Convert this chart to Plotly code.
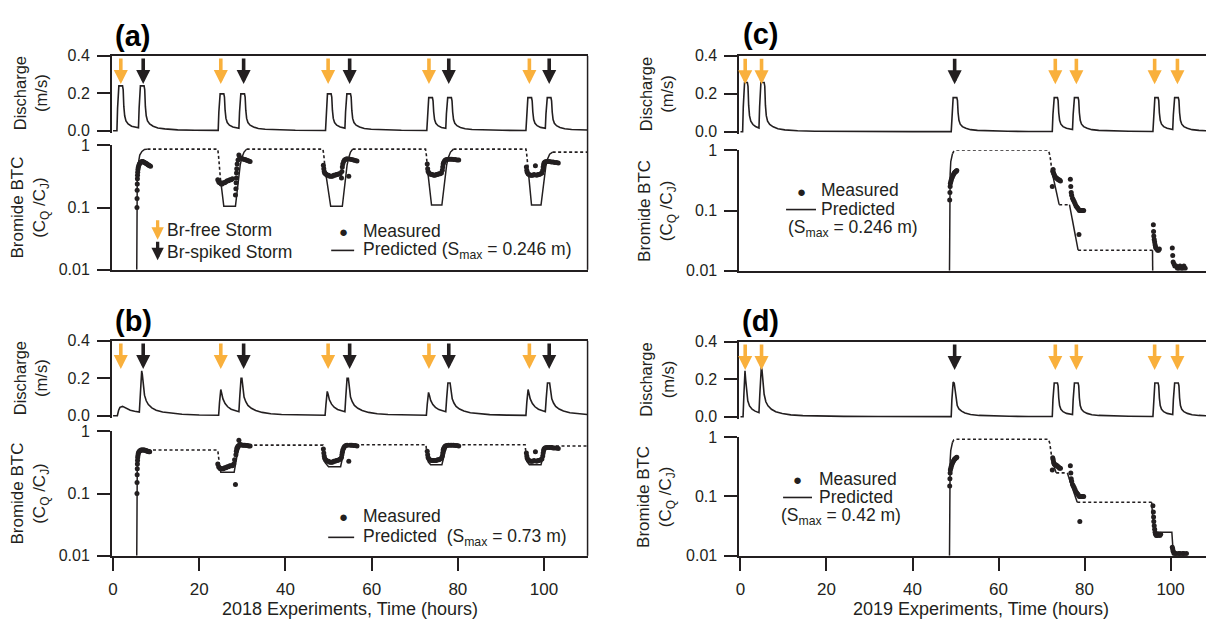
import plotly.graph_objects as go

W, H = 1214, 630
# the page body adds an 8px margin; the figure is drawn from (8, 8) to the window edge
OX, OY = 8, 8
FW, FH = W - OX, H - OY
INK = "#231F20"
ORANGE = "#F9B03C"
FONT = "Liberation Sans, Arial, Helvetica, sans-serif"

# ---------------- data ----------------
TIME_TICKS = [0, 20, 40, 60, 80, 100]
Q_TICKS = [0.0, 0.2, 0.4]
Q_TICKTEXT = ["0.0", "0.2", "0.4"]
C_TICKS = [0.01, 0.1, 1]
C_TICKTEXT = ["0.01", "0.1", "1"]

ARROW_TIP_Q = 0.25
FREE_2018 = [1.8, 25.0, 49.9, 73.3, 96.6]
SPIKED_2018 = [7.0, 30.3, 54.9, 77.9, 101.2]
FREE_2019 = [1.1, 4.9, 73.2, 78.1, 96.3, 101.6]
SPIKED_2019 = [49.8]

# discharge (m/s)
QA_T = [0, 0.9, 1.05, 1.2, 1.35, 2.2, 2.35, 2.5, 2.7, 3.0, 3.5, 4.3, 5.9,
        6.05, 6.2, 6.35, 7.2, 7.35, 7.5, 7.7, 8.0, 8.5, 9.3, 10.4, 12, 15, 19, 24.4,
        24.55, 24.7, 24.85, 25.7, 25.85, 26.0, 26.2, 26.5, 27.0, 27.8, 29.2,
        29.35, 29.5, 29.65, 30.5, 30.65, 30.8, 31.0, 31.3, 31.8, 32.6, 33.7, 35.3, 38.3, 42.3, 49.3,
        49.45, 49.6, 49.75, 50.6, 50.75, 50.9, 51.1, 51.4, 51.9, 52.7, 53.8,
        53.95, 54.1, 54.25, 55.1, 55.25, 55.4, 55.6, 55.9, 56.4, 57.2, 58.3, 59.9, 62.9, 66.9, 72.8,
        72.95, 73.1, 73.25, 74.1, 74.25, 74.4, 74.6, 74.9, 75.4, 76.2, 77.2,
        77.35, 77.5, 77.65, 78.5, 78.65, 78.8, 79.0, 79.3, 79.8, 80.6, 81.7, 83.3, 86.3, 90.3, 95.8,
        95.95, 96.1, 96.25, 97.1, 97.25, 97.4, 97.6, 97.9, 98.4, 99.2, 100.3,
        100.45, 100.6, 100.75, 101.6, 101.75, 101.9, 102.1, 102.4, 102.9, 103.7, 104.8, 106.4, 109.4, 110]
QA_V = [0, 0, 0.12, 0.22, 0.24, 0.24, 0.22, 0.13, 0.08, 0.053, 0.036, 0.024, 0.016,
        0.12, 0.22, 0.24, 0.24, 0.22, 0.13, 0.08, 0.053, 0.036, 0.024, 0.015, 0.01, 0.005, 0.003, 0.002,
        0.1, 0.18, 0.197, 0.197, 0.18, 0.11, 0.066, 0.044, 0.03, 0.02, 0.013,
        0.1, 0.18, 0.197, 0.197, 0.18, 0.11, 0.066, 0.044, 0.03, 0.02, 0.012, 0.008, 0.004, 0.0025, 0.0015,
        0.1, 0.18, 0.197, 0.197, 0.18, 0.11, 0.066, 0.044, 0.03, 0.02, 0.014,
        0.1, 0.18, 0.197, 0.197, 0.18, 0.11, 0.066, 0.044, 0.03, 0.02, 0.012, 0.008, 0.004, 0.0025, 0.0015,
        0.09, 0.16, 0.177, 0.177, 0.16, 0.1, 0.06, 0.04, 0.027, 0.018, 0.013,
        0.09, 0.16, 0.177, 0.177, 0.16, 0.1, 0.06, 0.04, 0.027, 0.018, 0.011, 0.007, 0.004, 0.0025, 0.0015,
        0.09, 0.16, 0.177, 0.177, 0.16, 0.1, 0.06, 0.04, 0.027, 0.018, 0.013,
        0.09, 0.16, 0.177, 0.177, 0.16, 0.1, 0.06, 0.04, 0.027, 0.018, 0.011, 0.007, 0.004, 0.0038]

QB_T = [0, 1.0, 1.3, 1.6, 2.2, 2.6, 3.2, 4.0, 5.0, 6.1,
        6.3, 6.5, 6.65, 6.8, 7.0, 7.3, 7.7, 8.2, 9.0, 10, 11.5, 13.5, 16, 20, 24.5,
        24.7, 24.9, 25.0, 25.2, 25.5, 26.0, 26.6, 27.4, 28.3, 29.2,
        29.4, 29.6, 29.7, 29.9, 30.1, 30.4, 30.8, 31.3, 32.1, 33.1, 34.6, 36.6, 39.1, 43.1, 49.2,
        49.4, 49.6, 49.7, 49.9, 50.2, 50.7, 51.3, 52.1, 53.0, 53.8,
        54.0, 54.2, 54.3, 54.6, 54.8, 55.1, 55.5, 56.0, 56.8, 57.8, 59.3, 61.3, 63.8, 67.8, 72.7,
        72.9, 73.1, 73.2, 73.4, 73.7, 74.2, 74.8, 75.6, 76.5, 77.2,
        77.4, 77.6, 77.7, 78.2, 78.4, 78.7, 79.1, 79.6, 80.4, 81.4, 82.9, 84.9, 87.4, 91.4, 95.8,
        96.0, 96.2, 96.3, 96.5, 96.8, 97.3, 97.9, 98.7, 99.6, 100.3,
        100.5, 100.7, 100.8, 101.3, 101.5, 101.8, 102.2, 102.7, 103.5, 104.5, 106, 108, 110]
QB_V = [0, 0, 0.03, 0.045, 0.05, 0.045, 0.037, 0.03, 0.024, 0.02,
        0.1, 0.2, 0.24, 0.22, 0.16, 0.11, 0.08, 0.06, 0.042, 0.03, 0.02, 0.013, 0.008, 0.004, 0.0025,
        0.07, 0.13, 0.14, 0.12, 0.09, 0.065, 0.048, 0.035, 0.027, 0.022,
        0.1, 0.18, 0.2, 0.2, 0.15, 0.1, 0.075, 0.055, 0.04, 0.028, 0.018, 0.011, 0.007, 0.004, 0.0025,
        0.06, 0.12, 0.13, 0.115, 0.085, 0.062, 0.046, 0.034, 0.026, 0.022,
        0.1, 0.18, 0.2, 0.2, 0.15, 0.1, 0.075, 0.055, 0.04, 0.028, 0.018, 0.011, 0.007, 0.004, 0.0025,
        0.06, 0.115, 0.125, 0.11, 0.082, 0.06, 0.045, 0.033, 0.026, 0.022,
        0.09, 0.16, 0.175, 0.175, 0.13, 0.09, 0.068, 0.05, 0.036, 0.025, 0.016, 0.01, 0.006, 0.0035, 0.0022,
        0.07, 0.13, 0.14, 0.12, 0.09, 0.065, 0.048, 0.035, 0.027, 0.022,
        0.09, 0.16, 0.175, 0.175, 0.13, 0.09, 0.068, 0.05, 0.036, 0.025, 0.016, 0.01, 0.007]

QC_T = [0, 0.5, 0.65, 0.8, 0.95, 1.6, 1.75, 1.9, 2.1, 2.4, 2.9, 3.5, 4.3,
        4.45, 4.6, 4.75, 5.5, 5.65, 5.8, 6.0, 6.3, 6.8, 7.6, 8.7, 10.3, 13.3, 17.3, 22, 30, 40, 49.0,
        49.15, 49.3, 49.45, 50.3, 50.45, 50.6, 50.8, 51.1, 51.6, 52.4, 53.5, 55.1, 58.1, 62.1, 67, 72.5,
        72.65, 72.8, 72.95, 73.7, 73.85, 74.0, 74.2, 74.5, 75.0, 75.8, 77.2,
        77.35, 77.5, 77.65, 78.5, 78.65, 78.8, 79.0, 79.3, 79.8, 80.6, 81.7, 83.3, 86.3, 90.3, 95.9,
        96.05, 96.2, 96.35, 97.1, 97.25, 97.4, 97.6, 97.9, 98.4, 99.2, 100.5,
        100.65, 100.8, 100.95, 101.8, 101.95, 102.1, 102.3, 102.6, 103.1, 103.9, 105, 106.6, 109.6, 110]
QC_V = [0, 0, 0.13, 0.24, 0.26, 0.26, 0.24, 0.14, 0.085, 0.056, 0.038, 0.028, 0.02,
        0.13, 0.24, 0.26, 0.26, 0.24, 0.14, 0.085, 0.056, 0.038, 0.026, 0.016, 0.01, 0.005, 0.003, 0.002, 0.0012, 0.0008, 0.0006,
        0.09, 0.165, 0.18, 0.18, 0.165, 0.1, 0.06, 0.04, 0.027, 0.018, 0.011, 0.007, 0.004, 0.0025, 0.0015, 0.001,
        0.09, 0.165, 0.18, 0.18, 0.165, 0.1, 0.06, 0.04, 0.027, 0.018, 0.012,
        0.09, 0.165, 0.18, 0.18, 0.165, 0.1, 0.06, 0.04, 0.027, 0.018, 0.011, 0.007, 0.004, 0.0025, 0.0015,
        0.09, 0.165, 0.18, 0.18, 0.165, 0.1, 0.06, 0.04, 0.027, 0.018, 0.012,
        0.09, 0.165, 0.18, 0.18, 0.165, 0.1, 0.06, 0.04, 0.027, 0.018, 0.011, 0.007, 0.004, 0.0038]

QD_T = [0, 0.6, 0.8, 0.95, 1.05, 1.2, 1.4, 1.7, 2.1, 2.7, 3.4, 4.3,
        4.5, 4.7, 4.85, 5.0, 5.2, 5.5, 5.9, 6.4, 7.2, 8.2, 9.7, 11.7, 14.5, 18.5, 24, 32, 40, 49.0,
        49.15, 49.3, 49.45, 49.7, 49.9, 50.1, 50.4, 50.8, 51.4, 52.2, 53.5, 55.5, 58.5, 62.5, 67, 72.5,
        72.65, 72.8, 72.95, 73.7, 73.85, 74.0, 74.2, 74.5, 75.0, 75.8, 77.2,
        77.35, 77.5, 77.65, 78.5, 78.65, 78.8, 79.0, 79.3, 79.8, 80.6, 81.7, 83.3, 86.3, 90.3, 95.9,
        96.05, 96.2, 96.35, 97.1, 97.25, 97.4, 97.6, 97.9, 98.4, 99.2, 100.5,
        100.65, 100.8, 100.95, 101.8, 101.95, 102.1, 102.3, 102.6, 103.1, 103.9, 105, 106.6, 109.6, 110]
QD_V = [0, 0, 0.12, 0.22, 0.245, 0.2, 0.13, 0.085, 0.058, 0.04, 0.03, 0.022,
        0.12, 0.24, 0.265, 0.25, 0.18, 0.12, 0.08, 0.058, 0.04, 0.027, 0.017, 0.01, 0.006, 0.0035, 0.002, 0.0012, 0.0008, 0.0006,
        0.09, 0.165, 0.185, 0.18, 0.14, 0.09, 0.06, 0.042, 0.03, 0.02, 0.012, 0.007, 0.004, 0.0025, 0.0015, 0.001,
        0.09, 0.165, 0.18, 0.18, 0.165, 0.1, 0.06, 0.04, 0.027, 0.018, 0.012,
        0.09, 0.165, 0.18, 0.18, 0.165, 0.1, 0.06, 0.04, 0.027, 0.018, 0.011, 0.007, 0.004, 0.0025, 0.0015,
        0.09, 0.165, 0.18, 0.18, 0.165, 0.1, 0.06, 0.04, 0.027, 0.018, 0.012,
        0.09, 0.165, 0.18, 0.18, 0.165, 0.1, 0.06, 0.04, 0.027, 0.018, 0.011, 0.007, 0.004, 0.0038]

# predicted bromide BTC (solid = during storms, dotted = between storms), None splits segments
PA_SOLID_T = [5.5, 5.52, 5.56, 5.62, 5.72, 5.9, 6.2, 6.7, 7.3, 8.0, None,
              24.9, 25.7, 28.4, 28.8, 29.1, 29.5, 29.9, 30.4, 31.0, None,
              49.2, 50.5, 53.2, 53.6, 53.9, 54.3, 54.7, 55.1, 55.6, None,
              72.95, 73.9, 76.3, 76.7, 77.0, 77.4, 77.8, 78.3, 79.0, None,
              96.3, 97.1, 99.3, 99.7, 100.0, 100.4, 100.8, 101.3, 102.0]
PA_SOLID_C = [0.01, 0.05, 0.15, 0.3, 0.45, 0.58, 0.7, 0.8, 0.86, 0.87, None,
              0.3, 0.105, 0.105, 0.18, 0.3, 0.48, 0.64, 0.78, 0.87, None,
              0.42, 0.105, 0.105, 0.18, 0.3, 0.48, 0.64, 0.78, 0.87, None,
              0.42, 0.11, 0.11, 0.18, 0.3, 0.48, 0.64, 0.78, 0.87, None,
              0.42, 0.11, 0.11, 0.18, 0.3, 0.45, 0.6, 0.72, 0.78]
PA_DOT_T = [8.0, 24.3, 24.5, 24.9, None, 31.0, 48.7, 48.9, 49.2, None,
            55.6, 72.5, 72.7, 72.95, None, 79.0, 95.8, 96.0, 96.3, None, 102.0, 110]
PA_DOT_C = [0.87, 0.87, 0.65, 0.3, None, 0.87, 0.87, 0.7, 0.42, None,
            0.87, 0.87, 0.7, 0.42, None, 0.87, 0.87, 0.7, 0.42, None, 0.78, 0.78]

PB_SOLID_T = [5.5, 5.52, 5.56, 5.62, 5.72, 5.9, 6.2, 6.6, 7.2, 8.0, None,
              24.7, 25.0, 28.1, 28.4, 28.8, 29.2, 29.6, 30.2, None,
              49.1, 50.0, 52.8, 53.1, 53.5, 53.9, 54.4, 55.0, None,
              73.0, 73.7, 76.3, 76.6, 77.0, 77.4, 77.9, 78.5, None,
              96.0, 96.6, 99.3, 99.6, 100.0, 100.4, 100.9, 101.5]
PB_SOLID_C = [0.01, 0.05, 0.13, 0.25, 0.35, 0.42, 0.46, 0.49, 0.5, 0.5, None,
              0.28, 0.22, 0.22, 0.3, 0.42, 0.52, 0.58, 0.6, None,
              0.32, 0.27, 0.27, 0.35, 0.46, 0.55, 0.6, 0.61, None,
              0.33, 0.29, 0.29, 0.36, 0.46, 0.55, 0.6, 0.61, None,
              0.33, 0.29, 0.29, 0.36, 0.45, 0.53, 0.57, 0.58]
PB_DOT_T = [8.0, 24.3, 24.5, 24.7, None, 30.2, 48.7, 48.9, 49.1, None,
            55.0, 72.6, 72.8, 73.0, None, 78.5, 95.6, 95.8, 96.0, None, 101.5, 110]
PB_DOT_C = [0.5, 0.5, 0.38, 0.28, None, 0.6, 0.6, 0.45, 0.32, None,
            0.61, 0.61, 0.45, 0.33, None, 0.61, 0.61, 0.45, 0.33, None, 0.58, 0.58]

PC_SOLID_T = [48.6, 48.65, 48.75, 48.9, 49.1, 49.3, None, 72.4, 74.1, None,
              76.5, 78.5, None, 95.8, 95.85]
PC_SOLID_C = [0.01, 0.1, 0.4, 0.65, 0.8, 0.88, None, 0.45, 0.125, None,
              0.125, 0.022, None, 0.022, 0.01]
PC_DOT_T = [49.3, 49.6, 50.0, 71.5, 71.8, 72.1, 72.4, None, 74.1, 76.5, None, 78.5, 95.8]
PC_DOT_C = [0.88, 0.96, 1.0, 1.0, 0.9, 0.7, 0.45, None, 0.125, 0.125, None, 0.022, 0.022]

PD_SOLID_T = [48.6, 48.65, 48.75, 48.9, 49.1, 49.3, None, 72.5, 73.4, None,
              76.0, 78.3, None, 95.6, 95.8, 96.3, 100.3, 100.5, 101.2, 103.5]
PD_SOLID_C = [0.01, 0.1, 0.4, 0.6, 0.75, 0.82, None, 0.4, 0.25, None,
              0.25, 0.08, None, 0.08, 0.05, 0.025, 0.025, 0.015, 0.011, 0.011]
PD_DOT_T = [49.3, 49.6, 50.0, 71.6, 71.9, 72.2, 72.5, None, 73.4, 76.0, None, 78.3, 95.6]
PD_DOT_C = [0.82, 0.9, 0.92, 0.92, 0.8, 0.6, 0.4, None, 0.25, 0.25, None, 0.08, 0.08]

# measured bromide BTC
MA_T = [5.55, 5.57, 5.6, 5.62, 5.65, 5.68, 5.72, 5.78, 5.85, 5.95, 6.1, 6.3, 6.5, 6.7, 6.9, 7.1, 7.3, 7.5, 7.7, 7.9, 8.1, 8.3, 8.5, 8.7,
        24.3, 24.5, 24.7, 24.9, 25.1, 25.3, 25.6, 25.9, 26.2, 26.5, 26.8, 27.1, 27.4, 27.7, 28.4, 28.5, 28.55, 28.6, 28.65, 28.7, 28.8, 29.0, 29.2, 29.4, 29.7, 30.0, 30.3, 30.6, 30.9, 31.2, 31.5, 31.8,
        48.8, 48.9, 49.0, 49.1, 49.3, 49.5, 49.7, 50.0, 50.3, 50.6, 50.9, 51.2, 51.5, 51.8, 52.1, 52.4, 52.7, 53.0, 53.1, 53.2, 53.3, 53.5, 53.7, 54.0, 54.3, 54.7, 55.0, 55.4, 55.8, 56.2, 56.6,
        72.9, 73.0, 73.1, 73.3, 73.5, 73.8, 74.1, 74.4, 74.7, 75.0, 75.3, 75.6, 75.9, 76.2, 76.4, 76.5, 76.6, 76.7, 76.9, 77.1, 77.4, 77.8, 78.2, 78.6, 79.0, 79.4, 79.8, 80.2,
        95.9, 96.0, 96.1, 96.3, 96.5, 96.8, 97.1, 97.4, 97.7, 98.0, 98.3, 98.6, 98.9, 99.2, 99.5, 99.7, 99.8, 99.9, 100.0, 100.2, 100.5, 100.9, 101.3, 101.7, 102.1, 102.5, 102.9, 103.3]
MA_C = [0.1, 0.14, 0.19, 0.24, 0.29, 0.33, 0.37, 0.41, 0.44, 0.47, 0.5, 0.52, 0.54, 0.55, 0.55, 0.54, 0.53, 0.52, 0.51, 0.5, 0.49, 0.48, 0.47, 0.46,
        0.28, 0.26, 0.25, 0.25, 0.24, 0.24, 0.25, 0.25, 0.26, 0.27, 0.27, 0.28, 0.28, 0.29, 0.16, 0.2, 0.25, 0.3, 0.36, 0.42, 0.5, 0.58, 0.7, 0.64, 0.62, 0.61, 0.6, 0.59, 0.58, 0.57, 0.56, 0.55,
        0.48, 0.42, 0.38, 0.36, 0.35, 0.34, 0.33, 0.33, 0.32, 0.32, 0.32, 0.33, 0.33, 0.34, 0.34, 0.35, 0.35, 0.3, 0.38, 0.45, 0.5, 0.55, 0.58, 0.6, 0.61, 0.32, 0.6, 0.59, 0.58, 0.57, 0.56,
        0.5, 0.42, 0.38, 0.36, 0.35, 0.34, 0.34, 0.33, 0.33, 0.34, 0.34, 0.35, 0.35, 0.36, 0.4, 0.45, 0.5, 0.53, 0.56, 0.58, 0.59, 0.6, 0.6, 0.6, 0.59, 0.59, 0.58, 0.58,
        0.45, 0.4, 0.37, 0.35, 0.34, 0.33, 0.33, 0.33, 0.34, 0.47, 0.33, 0.34, 0.34, 0.35, 0.36, 0.4, 0.45, 0.49, 0.52, 0.54, 0.55, 0.55, 0.55, 0.54, 0.54, 0.53, 0.53, 0.52]

MB_T = [5.55, 5.57, 5.6, 5.62, 5.65, 5.68, 5.72, 5.78, 5.85, 5.95, 6.1, 6.3, 6.5, 6.7, 6.9, 7.1, 7.3, 7.5, 7.7, 7.9, 8.1, 8.3, 8.5,
        24.3, 24.5, 24.7, 24.9, 25.1, 25.3, 25.6, 25.9, 26.2, 26.5, 26.8, 27.1, 27.4, 27.7, 28.0, 28.2, 28.4, 28.5, 28.6, 28.7, 28.8, 29.0, 29.2, 29.4, 29.7, 30.0, 30.3, 30.6, 30.9, 31.2, 31.5, 31.8,
        48.8, 48.9, 49.0, 49.1, 49.3, 49.5, 49.7, 50.0, 50.3, 50.6, 50.9, 51.2, 51.5, 51.8, 52.1, 52.4, 52.7, 53.0, 53.1, 53.2, 53.3, 53.5, 53.7, 54.0, 54.3, 54.7, 55.0, 55.4, 55.8, 56.2, 56.6,
        72.9, 73.0, 73.1, 73.3, 73.5, 73.8, 74.1, 74.4, 74.7, 75.0, 75.3, 75.6, 75.9, 76.2, 76.4, 76.5, 76.6, 76.7, 76.9, 77.1, 77.4, 77.8, 78.2, 78.6, 79.0, 79.4, 79.8, 80.2,
        95.9, 96.0, 96.1, 96.3, 96.5, 96.8, 97.1, 97.4, 97.7, 98.0, 98.3, 98.6, 98.9, 99.2, 99.5, 99.7, 99.8, 99.9, 100.0, 100.2, 100.5, 100.9, 101.3, 101.7, 102.1, 102.5, 102.9, 103.3]
MB_C = [0.1, 0.15, 0.2, 0.25, 0.3, 0.34, 0.38, 0.41, 0.44, 0.46, 0.48, 0.49, 0.5, 0.5, 0.5, 0.5, 0.5, 0.49, 0.49, 0.48, 0.48, 0.47, 0.47,
        0.3, 0.27, 0.26, 0.25, 0.25, 0.25, 0.25, 0.26, 0.26, 0.27, 0.27, 0.28, 0.28, 0.28, 0.3, 0.35, 0.14, 0.42, 0.48, 0.52, 0.55, 0.58, 0.72, 0.62, 0.61, 0.6, 0.6, 0.6, 0.59, 0.59, 0.58, 0.58,
        0.52, 0.45, 0.4, 0.37, 0.35, 0.34, 0.33, 0.33, 0.32, 0.32, 0.32, 0.33, 0.33, 0.34, 0.34, 0.35, 0.36, 0.38, 0.42, 0.46, 0.5, 0.54, 0.57, 0.59, 0.6, 0.33, 0.6, 0.6, 0.59, 0.59, 0.58,
        0.48, 0.42, 0.38, 0.36, 0.35, 0.34, 0.34, 0.34, 0.34, 0.34, 0.35, 0.35, 0.36, 0.37, 0.4, 0.45, 0.5, 0.53, 0.56, 0.58, 0.59, 0.6, 0.6, 0.6, 0.6, 0.59, 0.59, 0.58,
        0.45, 0.4, 0.37, 0.35, 0.34, 0.33, 0.33, 0.33, 0.34, 0.47, 0.33, 0.34, 0.34, 0.35, 0.36, 0.4, 0.45, 0.49, 0.52, 0.54, 0.55, 0.55, 0.55, 0.55, 0.54, 0.54, 0.54, 0.53]

MC_T = [48.65, 48.7, 48.75, 48.8, 48.9, 49.0, 49.1, 49.25, 49.4, 49.55, 49.7, 49.85, 50.0, 50.15, 50.3,
        72.5, 72.6, 72.7, 72.8, 72.9, 73.0, 73.2, 73.4, 73.6, 73.8, 74.0, 74.2, 74.4,
        76.7, 76.8, 76.9, 77.0, 77.2, 77.4, 77.6, 77.8, 78.0, 78.2, 78.4, 78.6, 78.8, 79.0, 79.2, 79.4, 79.6, 79.8, 78.7,
        96.0, 96.05, 96.1, 96.2, 96.3, 96.4, 96.5, 96.6, 96.8, 97.0, 97.2, 97.4,
        100.4, 100.5, 100.6, 100.8, 101.0, 101.3, 101.6, 101.9, 102.2, 102.5, 102.8, 103.1, 103.4]
MC_C = [0.15, 0.2, 0.25, 0.28, 0.3, 0.32, 0.34, 0.36, 0.38, 0.4, 0.42, 0.43, 0.44, 0.45, 0.46,
        0.25, 0.45, 0.48, 0.42, 0.4, 0.38, 0.36, 0.35, 0.34, 0.33, 0.32, 0.32, 0.31,
        0.33, 0.25, 0.2, 0.18, 0.16, 0.15, 0.14, 0.13, 0.12, 0.115, 0.11, 0.105, 0.1, 0.1, 0.1, 0.1, 0.1, 0.1, 0.04,
        0.058, 0.045, 0.038, 0.033, 0.03, 0.027, 0.025, 0.024, 0.023, 0.022, 0.022, 0.023,
        0.024, 0.018, 0.014, 0.013, 0.012, 0.012, 0.011, 0.011, 0.012, 0.011, 0.011, 0.012, 0.011]

MD_T = [48.65, 48.7, 48.75, 48.8, 48.9, 49.0, 49.1, 49.25, 49.4, 49.55, 49.7, 49.85, 50.0, 50.15, 50.3,
        72.5, 72.6, 72.7, 72.8, 72.9, 73.0, 73.2, 73.4, 73.6, 73.8, 74.0, 74.2, 74.4,
        76.7, 76.8, 76.9, 77.0, 77.2, 77.4, 77.6, 77.8, 78.0, 78.2, 78.4, 78.6, 78.8, 79.0, 79.2, 79.4, 79.6, 79.8, 78.9,
        95.9, 96.0, 96.05, 96.1, 96.2, 96.3, 96.4, 96.5, 96.7, 96.9, 97.1, 97.3, 97.5, 97.7,
        100.4, 100.5, 100.6, 100.8, 101.0, 101.3, 101.6, 101.9, 102.2, 102.5, 102.8, 103.1, 103.4, 103.7]
MD_C = [0.15, 0.2, 0.25, 0.28, 0.3, 0.32, 0.34, 0.36, 0.38, 0.4, 0.42, 0.43, 0.44, 0.45, 0.46,
        0.28, 0.45, 0.42, 0.38, 0.36, 0.35, 0.34, 0.34, 0.33, 0.32, 0.31, 0.3, 0.3,
        0.33, 0.25, 0.2, 0.18, 0.16, 0.15, 0.14, 0.13, 0.12, 0.115, 0.11, 0.105, 0.1, 0.1, 0.1, 0.1, 0.1, 0.1, 0.038,
        0.07, 0.055, 0.045, 0.038, 0.032, 0.028, 0.025, 0.023, 0.022, 0.022, 0.023, 0.023, 0.022, 0.023,
        0.014, 0.013, 0.012, 0.011, 0.011, 0.011, 0.0105, 0.011, 0.011, 0.0105, 0.011, 0.011, 0.0105, 0.011]

# ---------------- layout geometry (window pixels) ----------------
def fx(px):
    return (px - OX) / FW


def fy(py):
    return 1 - (py - OY) / FH


PANELS = [
    dict(name="a", xd=(109, 586), q=(49, 126), c=(141, 269), xt=False, year=None,
         qt=QA_T, qv=QA_V, ps=(PA_SOLID_T, PA_SOLID_C), pd=(PA_DOT_T, PA_DOT_C), m=(MA_T, MA_C),
         free=FREE_2018, spiked=SPIKED_2018, border=True, label_xy=(130, 29)),
    dict(name="b", xd=(109, 586), q=(342, 419), c=(435, 563), xt=True, year="2018",
         qt=QB_T, qv=QB_V, ps=(PB_SOLID_T, PB_SOLID_C), pd=(PB_DOT_T, PB_DOT_C), m=(MB_T, MB_C),
         free=FREE_2018, spiked=SPIKED_2018, border=True, label_xy=(131, 322)),
    dict(name="c", xd=(738, 1214), q=(49, 127), c=(146, 270), xt=False, year=None,
         qt=QC_T, qv=QC_V, ps=(PC_SOLID_T, PC_SOLID_C), pd=(PC_DOT_T, PC_DOT_C), m=(MC_T, MC_C),
         free=FREE_2019, spiked=SPIKED_2019, border=False, label_xy=(759, 27)),
    dict(name="d", xd=(738, 1214), q=(343, 420), c=(441, 563), xt=True, year="2019",
         qt=QD_T, qv=QD_V, ps=(PD_SOLID_T, PD_SOLID_C), pd=(PD_DOT_T, PD_DOT_C), m=(MD_T, MD_C),
         free=FREE_2019, spiked=SPIKED_2019, border=False, label_xy=(759, 322)),
]

fig = go.Figure()
layout = {}
annotations = []
shapes = []

axis_common = dict(showgrid=False, zeroline=False, showline=True, linecolor=INK, linewidth=1.5,
                   tickcolor=INK, tickwidth=1.5, ticklen=13,
                   tickfont=dict(family=FONT, size=16, color=INK))

for i, p in enumerate(PANELS):
    nq = 2 * i + 1
    nc = 2 * i + 2
    xq, yq = f"x{nq}", f"y{nq}"
    xc, yc = f"x{nc}", f"y{nc}"
    q_top, q_zero = p["q"]
    q_bottom = q_zero + 0.01 * (q_zero - q_top) / 0.4
    xd = [fx(p["xd"][0]), min(1.0, fx(p["xd"][1]))]
    xrange = [-0.3, 110.1]

    layout[f"xaxis{nq}"] = dict(axis_common, domain=xd, range=xrange, anchor=yq, side="top",
                                ticks="", showticklabels=False)
    layout[f"yaxis{nq}"] = dict(axis_common, domain=[fy(q_bottom), fy(q_top)], range=[-0.01, 0.4],
                                anchor=xq, ticks="outside", tickvals=Q_TICKS, ticktext=Q_TICKTEXT,
                                ticklabelstandoff=4)
    xc_ax = dict(axis_common, domain=xd, range=xrange, anchor=yc)
    if p["xt"]:
        xc_ax.update(ticks="outside", tickvals=TIME_TICKS, ticklabelstandoff=4,
                     tickfont=dict(family=FONT, size=17, color=INK))
    else:
        xc_ax.update(ticks="", showticklabels=False)
    layout[f"xaxis{nc}"] = xc_ax
    layout[f"yaxis{nc}"] = dict(axis_common, domain=[fy(p["c"][1]), fy(p["c"][0])], type="log",
                                range=[-2, 0], anchor=xc, ticks="outside", tickvals=C_TICKS,
                                ticktext=C_TICKTEXT, ticklabelstandoff=4)

    # discharge
    fig.add_trace(go.Scatter(x=p["qt"], y=p["qv"], mode="lines", xaxis=xq, yaxis=yq,
                             line=dict(color=INK, width=1.6), showlegend=False, hoverinfo="skip"))
    # predicted
    fig.add_trace(go.Scatter(x=p["pd"][0], y=p["pd"][1], mode="lines", xaxis=xc, yaxis=yc,
                             line=dict(color=INK, width=1.6, dash="3px,2.5px"), showlegend=False,
                             connectgaps=False, hoverinfo="skip"))
    fig.add_trace(go.Scatter(x=p["ps"][0], y=p["ps"][1], mode="lines", xaxis=xc, yaxis=yc,
                             line=dict(color=INK, width=1.5), showlegend=False,
                             connectgaps=False, hoverinfo="skip"))
    # measured
    fig.add_trace(go.Scatter(x=p["m"][0], y=p["m"][1], mode="markers", xaxis=xc, yaxis=yc,
                             marker=dict(color=INK, size=5, line=dict(width=0)),
                             showlegend=False, hoverinfo="skip"))

    # storm arrows
    for t in p["free"]:
        annotations.append(dict(x=t, y=ARROW_TIP_Q, xref=xq, yref=yq, ax=0, ay=-27, text="",
                                showarrow=True, arrowhead=2, arrowsize=0.78, arrowwidth=3.6,
                                arrowcolor=ORANGE))
    for t in p["spiked"]:
        annotations.append(dict(x=t, y=ARROW_TIP_Q, xref=xq, yref=yq, ax=0, ay=-27, text="",
                                showarrow=True, arrowhead=2, arrowsize=0.78, arrowwidth=3.6,
                                arrowcolor=INK))

    # panel label
    annotations.append(dict(text=f"<b>({p['name']})</b>", x=fx(p["label_xy"][0]), y=fy(p["label_xy"][1]),
                            xref="paper", yref="paper", showarrow=False, xanchor="center",
                            yanchor="middle", font=dict(family=FONT, size=29, color="#000000")))

    # axis titles
    title_x = 27 if p["xd"][0] < 600 else 655
    annotations.append(dict(text="Discharge<br>(m/s)", x=fx(title_x), y=fy((q_top + q_zero) / 2),
                            xref="paper", yref="paper", showarrow=False, textangle=-90,
                            xanchor="center", yanchor="middle",
                            font=dict(family=FONT, size=16.5, color=INK)))
    annotations.append(dict(text="Bromide BTC<br>(C<sub>Q</sub> /C<sub>J</sub>)", x=fx(title_x),
                            y=fy((p["c"][0] + p["c"][1]) / 2), xref="paper", yref="paper",
                            showarrow=False, textangle=-90, xanchor="center", yanchor="middle",
                            font=dict(family=FONT, size=17, color=INK)))
    if p["year"]:
        annotations.append(dict(text=f"{p['year']} Experiments, Time (hours)",
                                x=fx((p["xd"][0] + p["xd"][1]) / 2 + (0 if p["xd"][0] < 600 else 4)),
                                y=fy(618), xref="paper", yref="paper", showarrow=False,
                                xanchor="center", yanchor="middle",
                                font=dict(family=FONT, size=18, color=INK)))

    if p["border"]:
        shapes.append(dict(type="line", xref="paper", yref="paper", x0=xd[1], x1=xd[1],
                           y0=fy(p["c"][1]), y1=fy(q_top), line=dict(color=INK, width=1.5)))


def txt(s, px, py, size=17.5, anchor="left"):
    return dict(text=s, x=fx(px), y=fy(py), xref="paper", yref="paper", showarrow=False,
                xanchor=anchor, yanchor="middle", font=dict(family=FONT, size=size, color=INK))


def legend_line(px0, px1, py):
    return dict(type="line", xref="paper", yref="paper", x0=fx(px0), x1=fx(px1), y0=fy(py), y1=fy(py),
                line=dict(color=INK, width=1.6))


# legend (a)
annotations.append(dict(x=fx(155), y=fy(238), xref="paper", yref="paper", ax=0, ay=-21, text="",
                        showarrow=True, arrowhead=2, arrowsize=0.75, arrowwidth=3.3, arrowcolor=ORANGE))
annotations.append(dict(x=fx(155), y=fy(259), xref="paper", yref="paper", ax=0, ay=-20, text="",
                        showarrow=True, arrowhead=2, arrowsize=0.75, arrowwidth=3.3, arrowcolor=INK))
annotations.append(txt("Br-free Storm", 162, 228))
annotations.append(txt("Br-spiked Storm", 162, 251))
annotations.append(txt("●", 341, 230, size=15, anchor="center"))
annotations.append(txt("Measured", 359, 229))
shapes.append(legend_line(329, 352, 249))
annotations.append(txt("Predicted (S<sub>max</sub> = 0.246 m)", 359, 249))

# legend (b)
annotations.append(txt("●", 341, 523, size=15, anchor="center"))
annotations.append(txt("Measured", 359, 522))
shapes.append(legend_line(326, 352, 544))
annotations.append(txt("Predicted\u00a0\u00a0(S<sub>max</sub> = 0.73 m)", 359, 544))

# legend (c)
annotations.append(txt("●", 800, 188, size=15, anchor="center"))
annotations.append(txt("Measured", 818, 187))
shapes.append(legend_line(785, 815, 207))
annotations.append(txt("Predicted", 818, 206))
annotations.append(txt("(S<sub>max</sub> = 0.246 m)", 852, 226, anchor="center"))

# legend (d)
annotations.append(txt("●", 796, 485, size=15, anchor="center"))
annotations.append(txt("Measured", 816, 484))
shapes.append(legend_line(782, 811, 503))
annotations.append(txt("Predicted", 816, 503))
annotations.append(txt("(S<sub>max</sub> = 0.42 m)", 840, 523, anchor="center"))

fig.update_layout(
    width=FW, height=FH,
    margin=dict(l=0, r=0, t=0, b=0),
    paper_bgcolor="white", plot_bgcolor="white",
    showlegend=False,
    annotations=annotations,
    shapes=shapes,
    **layout,
)

fig.write_html("out.html")
